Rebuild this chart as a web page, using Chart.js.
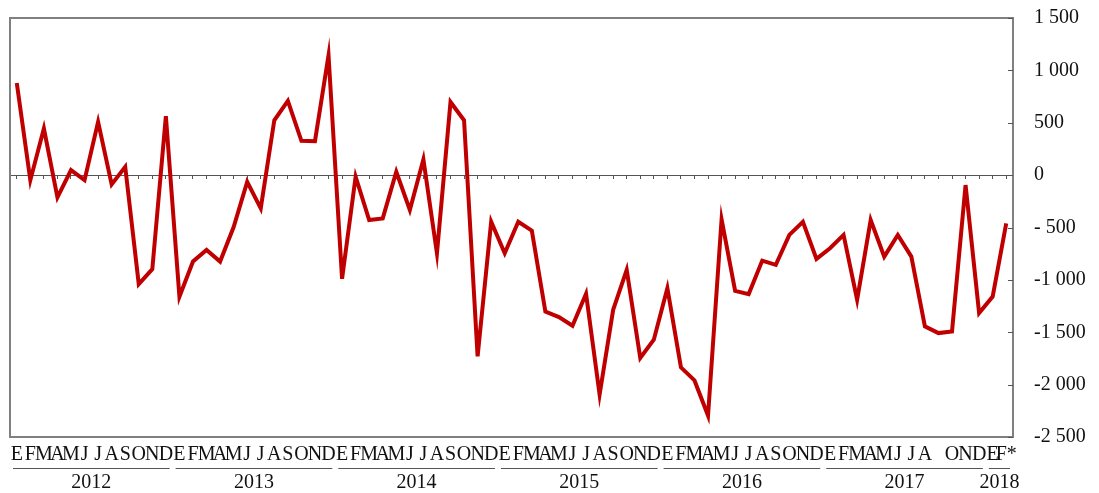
<!DOCTYPE html>
<html>
<head>
<meta charset="utf-8">
<script src="https://cdn.jsdelivr.net/npm/chart.js@4.4.0/dist/chart.umd.min.js"></script>
<style>
  html, body { margin: 0; padding: 0; background: #fff; }
  #wrap { width: 1099px; height: 493px; }
</style>
</head>
<body>
<div id="wrap"><canvas id="chart"></canvas></div>
<script>
// month initials, year groups and monthly values (Jan 2012 - Feb 2018)
const monthLetters = ['E', 'F', 'M', 'A', 'M', 'J', 'J', 'A', 'S', 'O', 'N', 'D'];
const years = ['2012', '2013', '2014', '2015', '2016', '2017', '2018'];
const monthsPerYear = [12, 12, 12, 12, 12, 12, 2];
const lastLabels = ['E', 'F*'];

const values2012 = [880, -48, 445, -212, 48, -48, 508, -89, 79, -1040, -898, 562];
const values2013 = [-1160, -825, -714, -825, -495, -64, -317, 524, 708, 327, 324, 1143];
const values2014 = [-990, -15, -429, -413, 32, -333, 149, -746, 698, 524, -1730, -445];
const values2015 = [-746, -445, -530, -1302, -1355, -1438, -1133, -2095, -1286, -905, -1746, -1571];
const values2016 = [-1079, -1835, -1960, -2295, -422, -1105, -1136, -816, -857, -571, -445, -800];
const values2017 = [-698, -571, -1190, -429, -778, -571, -778, -1444, -1508, -1492, -95, -1317];
const values2018 = [-1159, -460];

const yTicks = { min: -2500, max: 1500, step: 500 };

const labels = [];
years.forEach((y, k) => {
    for (let m = 0; m < monthsPerYear[k]; m++) {
        if (y === '2018') labels.push(lastLabels[m]);
        else if (y === '2017' && m === 8) labels.push('');
        else labels.push(monthLetters[m]);
    }
});
const values = [].concat(values2012, values2013, values2014, values2015, values2016, values2017, values2018);

function fmt(v) {
    const a = Math.abs(v);
    let s = a >= 1000 ? Math.floor(a / 1000) + ' ' + String(a % 1000).padStart(3, '0') : String(a);
    if (v < 0) s = (a < 1000 ? '- ' : '-') + s;
    return s;
}

const frameAndYears = {
    id: 'frameAndYears',
    beforeDatasetsDraw(chart) {
        const a = chart.chartArea, c = chart.ctx, y = chart.scales.y;
        c.save();
        c.strokeStyle = '#808080';
        c.lineWidth = 2;
        c.strokeRect(a.left, a.top, a.right - a.left, a.bottom - a.top);
        // small inward ticks on the right axis
        c.strokeStyle = '#555';
        c.lineWidth = 1;
        y.ticks.forEach(t => {
            const py = Math.round(y.getPixelForValue(t.value)) + 0.5;
            c.beginPath();
            c.moveTo(a.right - 5, py);
            c.lineTo(a.right, py);
            c.stroke();
        });
        c.restore();
    },
    afterDraw(chart) {
        const x = chart.scales.x, c = chart.ctx;
        const half = (x.getPixelForValue(1) - x.getPixelForValue(0)) / 2;
        let start = 0;
        c.save();
        c.font = '20px "Liberation Serif"';
        c.fillStyle = '#111';
        c.textAlign = 'center';
        c.textBaseline = 'middle';
        c.strokeStyle = '#555';
        c.lineWidth = 1;
        years.forEach((y, k) => {
            const end = start + monthsPerYear[k] - 1;
            const x0 = x.getPixelForValue(start) - half + 3;
            const x1 = x.getPixelForValue(end) + half - 3;
            c.beginPath();
            c.moveTo(x0, 468.5);
            c.lineTo(x1, 468.5);
            c.stroke();
            c.fillText(y, (x0 + x1) / 2, 483);
            start = end + 1;
        });
        c.restore();
    }
};

new Chart(document.getElementById('chart'), {
    type: 'line',
    data: {
        labels: labels,
        datasets: [{
            data: values,
            borderColor: '#c00000',
            borderWidth: 4,
            pointRadius: 0,
            tension: 0,
            fill: false
        }]
    },
    options: {
        responsive: true,
        maintainAspectRatio: false,
        animation: false,
        layout: { padding: { left: 10, top: 0, right: 0, bottom: 0 } },
        plugins: { legend: { display: false }, tooltip: { enabled: false } },
        scales: {
            x: {
                offset: true,
                grid: { display: false, drawTicks: false },
                border: { display: false },
                ticks: {
                    autoSkip: false,
                    maxRotation: 0,
                    padding: 6,
                    color: '#111',
                    font: { family: 'Liberation Serif', size: 20 }
                },
                afterFit(s) { s.height = 56; }
            },
            x2: {
                type: 'category',
                position: { y: 0 },
                offset: true,
                ticks: { display: false },
                grid: { drawOnChartArea: false, drawTicks: true, tickLength: 3, color: '#555' },
                border: { display: true, color: '#555', width: 1 }
            },
            y: {
                position: 'right',
                min: yTicks.min,
                max: yTicks.max,
                grid: { drawOnChartArea: false, drawTicks: true, tickLength: 15, tickColor: 'transparent' },
                border: { display: true, color: '#555', width: 1.5 },
                ticks: {
                    stepSize: yTicks.step,
                    padding: 6,
                    color: '#111',
                    font: { family: 'Liberation Serif', size: 20 },
                    callback: v => fmt(v)
                },
                afterFit(s) { s.width = 86; }
            }
        }
    },
    plugins: [frameAndYears]
});
</script>
</body>
</html>
